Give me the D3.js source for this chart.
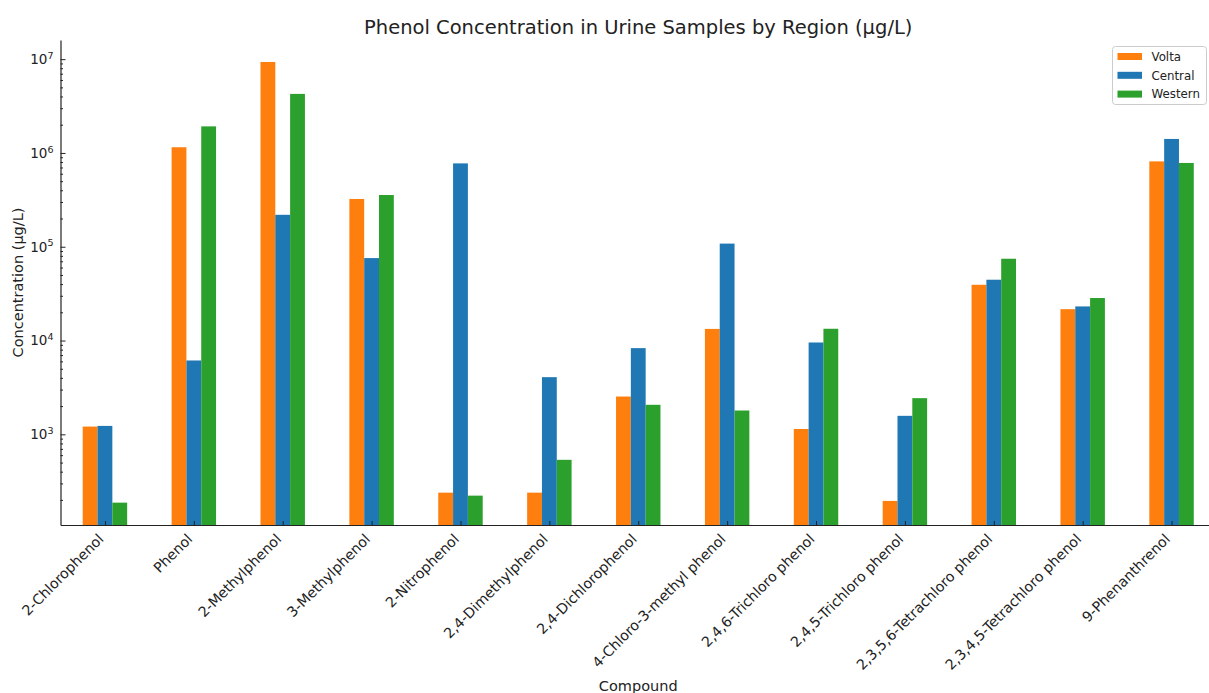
<!DOCTYPE html>
<html>
<head>
  <title>Phenol Concentration in Urine Samples</title>
  <script src="https://d3js.org/d3.v7.min.js"></script>
  <style>
    body {
      margin: 0;
      background: #fff;
    }
    svg {
      font-family: "DejaVu Sans", sans-serif;
      display: block;
    }
    .title {
      font-size: 19.5px;
      fill: #222;
      text-anchor: middle;
    }
    .axis-label {
      font-size: 14.5px;
      fill: #222;
      text-anchor: middle;
    }
    .tick text {
      fill: #222;
      font-family: "DejaVu Sans", sans-serif;
    }
  </style>
</head>
<body>
  <div id="chart"></div>
  <script>
    const compounds = [
      "2-Chlorophenol", "Phenol", "2-Methylphenol", "3-Methylphenol", "2-Nitrophenol",
      "2,4-Dimethylphenol", "2,4-Dichlorophenol", "4-Chloro-3-methyl phenol",
      "2,4,6-Trichloro phenol", "2,4,5-Trichloro phenol", "2,3,5,6-Tetrachloro phenol",
      "2,3,4,5-Tetrachloro phenol", "9-Phenanthrenol"
    ];
    const regions = ["Volta", "Central", "Western"];
    const volta = [1210, 1150000, 9330000, 323000, 239, 239, 2530, 13300, 1140, 195, 39300, 21600, 813000];
    const central = [1230, 6130, 219000, 75700, 774000, 4070, 8300, 108000, 9530, 1575, 44500, 23100, 1410000];
    const western = [187, 1920000, 4260000, 356000, 222, 535, 2065, 1795, 13350, 2430, 74500, 28400, 782000];
    const majorTicks = [1e3, 1e4, 1e5, 1e6, 1e7];
    const colors = ["#ff7f0e", "#1f77b4", "#2ca02c"];

    const width = 1209;
    const height = 693;
    const plot = { left: 60.5, right: 1216, top: 40, bottom: 525 };

    const seriesByRegion = { Volta: volta, Central: central, Western: western };

    const svg = d3.select("#chart")
      .append("svg")
      .attr("width", width)
      .attr("height", height);

    const x = d3.scalePoint()
      .domain(compounds)
      .range([plot.left, plot.right])
      .padding(0.5);

    const barW = x.step() * 0.5 / 3;
    const xInner = d3.scaleBand()
      .domain(regions)
      .range([-barW * 1.5, barW * 1.5]);

    const y = d3.scaleLog()
      .domain([108, 1.6e7])
      .range([plot.bottom, plot.top]);

    // bars
    regions.forEach((r, ri) => {
      svg.append("g")
        .selectAll("rect")
        .data(seriesByRegion[r])
        .join("rect")
        .attr("x", (d, i) => x(compounds[i]) + xInner(r))
        .attr("y", d => y(d))
        .attr("width", xInner.bandwidth())
        .attr("height", d => plot.bottom - y(d))
        .attr("fill", colors[ri]);
    });

    // minor y ticks
    const minor = [];
    for (let e = 2; e <= 6; e++) {
      for (let m = 2; m <= 9; m++) {
        const v = m * Math.pow(10, e);
        if (v > 108 && v < 1.6e7) minor.push(v);
      }
    }
    svg.append("g")
      .attr("transform", `translate(${plot.left},0)`)
      .call(d3.axisLeft(y).tickValues(minor).tickSize(-2.5).tickFormat(""))
      .call(g => g.select(".domain").remove())
      .call(g => g.selectAll("line").attr("stroke", "#222"));

    // major y ticks
    const yAxis = svg.append("g")
      .attr("transform", `translate(${plot.left},0)`)
      .call(d3.axisLeft(y).tickValues(majorTicks).tickSize(-5).tickPadding(7).tickSizeOuter(0).tickFormat(""));
    yAxis.select(".domain").attr("stroke", "#222").attr("stroke-width", 1.2);
    yAxis.selectAll("line").attr("stroke", "#222");
    yAxis.selectAll(".tick text")
      .attr("font-size", 13.5)
      .each(function(d) {
        const t = d3.select(this);
        t.append("tspan").text("10");
        t.append("tspan")
          .attr("dy", "-0.55em")
          .attr("font-size", 9.5)
          .text(Math.round(Math.log10(d)));
      });

    // x axis
    const xAxis = svg.append("g")
      .attr("transform", `translate(0,${plot.bottom})`)
      .call(d3.axisBottom(x).tickSize(-4).tickSizeOuter(0));
    xAxis.select(".domain").attr("stroke", "#222").attr("stroke-width", 1.2);
    xAxis.selectAll("line").attr("stroke", "#222");
    xAxis.selectAll(".tick text")
      .attr("font-size", 14.2)
      .attr("text-anchor", "end")
      .attr("dy", null)
      .attr("y", null)
      .attr("transform", "translate(-1,15) rotate(-45)");

    // title and axis labels
    svg.append("text")
      .attr("class", "title")
      .attr("x", (plot.left + plot.right) / 2)
      .attr("y", 34)
      .text("Phenol Concentration in Urine Samples by Region (µg/L)");

    svg.append("text")
      .attr("class", "axis-label")
      .attr("transform", `translate(23,${(plot.top + plot.bottom) / 2}) rotate(-90)`)
      .text("Concentration (µg/L)");

    svg.append("text")
      .attr("class", "axis-label")
      .attr("x", (plot.left + plot.right) / 2)
      .attr("y", 691)
      .text("Compound");

    // legend
    const legend = svg.append("g")
      .attr("transform", "translate(1112.5,46.5)");
    legend.append("rect")
      .attr("width", 94)
      .attr("height", 58)
      .attr("rx", 3)
      .attr("fill", "#fff")
      .attr("stroke", "#ccc");
    regions.forEach((r, i) => {
      const row = legend.append("g")
        .attr("transform", `translate(5,${10 + i * 18.8})`);
      row.append("rect")
        .attr("x", 0)
        .attr("y", -3.5)
        .attr("width", 24.5)
        .attr("height", 7)
        .attr("fill", colors[i]);
      row.append("text")
        .attr("x", 34)
        .attr("y", 4.3)
        .attr("font-size", 11.8)
        .attr("fill", "#222")
        .text(r);
    });
  </script>
</body>
</html>
